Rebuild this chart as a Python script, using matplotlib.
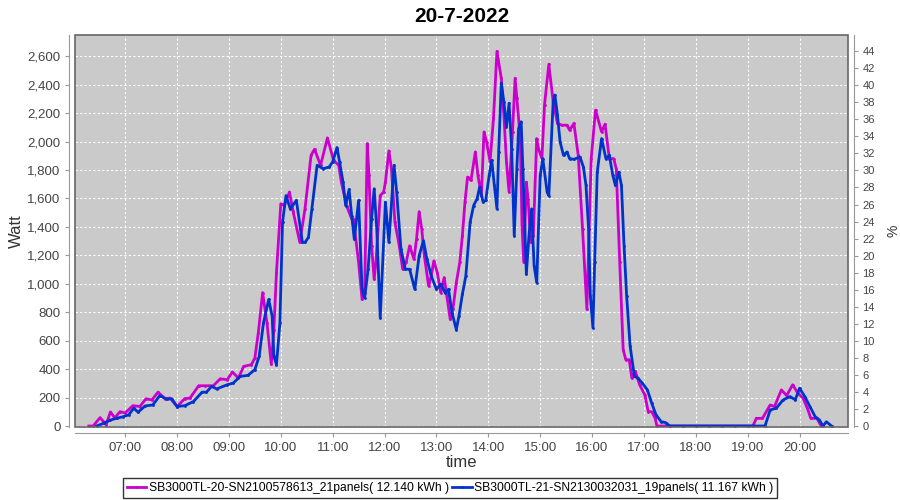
import pandas as pd
import matplotlib
matplotlib.use('Agg')
import matplotlib.pyplot as plt
import matplotlib.dates as mdates
from matplotlib.ticker import FuncFormatter, MultipleLocator
from matplotlib.patches import Rectangle

plt.rcParams['font.family'] = ['Liberation Sans', 'DejaVu Sans']

DAY = '2022-07-20 '

# SB3000TL-20 (magenta)
t_20 = ['06:18', '06:23', '06:31', '06:38', '06:43', '06:48', '06:54', '07:00', '07:09', '07:17',
        '07:24', '07:31', '07:38', '07:46', '07:52', '08:00', '08:09', '08:15', '08:25', '08:32',
        '08:42', '08:50', '08:58', '09:04', '09:11', '09:17', '09:26', '09:30', '09:34', '09:39',
        '09:44', '09:49', '09:52', '09:55', '10:00', '10:04', '10:10', '10:14', '10:22', '10:28',
        '10:35', '10:39', '10:46', '10:54', '11:01', '11:07', '11:10', '11:16', '11:22', '11:24',
        '11:30', '11:34', '11:37', '11:40', '11:42', '11:45', '11:48', '11:50', '11:55', '11:59',
        '12:01', '12:05', '12:08', '12:12', '12:17', '12:21', '12:25', '12:29', '12:34', '12:37',
        '12:40', '12:43', '12:46', '12:51', '12:54', '12:57', '13:01', '13:05', '13:09', '13:12',
        '13:16', '13:19', '13:23', '13:27', '13:30', '13:33', '13:36', '13:40', '13:45', '13:48',
        '13:52', '13:55', '13:58', '14:02', '14:06', '14:10', '14:15', '14:18', '14:21', '14:24',
        '14:28', '14:31', '14:33', '14:37', '14:39', '14:41', '14:44', '14:46', '14:49', '14:52',
        '14:56', '14:58', '15:02', '15:05', '15:10', '15:15', '15:20', '15:25', '15:31', '15:34',
        '15:39', '15:44', '15:49', '15:54', '15:59', '16:04', '16:11', '16:15', '16:20', '16:25',
        '16:28', '16:32', '16:36', '16:39', '16:43', '16:46', '16:50', '16:55', '17:01', '17:05',
        '17:09', '17:13', '17:15', '17:30', '17:45', '18:00', '18:15', '18:30', '18:45', '19:06',
        '19:10', '19:17', '19:26', '19:31', '19:39', '19:45', '19:52', '19:58', '20:04', '20:09',
        '20:13', '20:20', '20:25']
w_20 = [0, 0, 59, 10, 99, 57, 101, 92, 143, 137,
        191, 184, 238, 193, 196, 137, 193, 196, 283, 283,
        283, 332, 325, 380, 337, 419, 431, 478, 655, 938,
        726, 436, 678, 1079, 1562, 1550, 1645, 1515, 1291, 1527,
        1903, 1946, 1833, 2026, 1868, 1833, 1715, 1550, 1456, 1456,
        1150, 890, 938, 1986, 1762, 1267, 1032, 1150, 1620, 1645,
        1715, 1934, 1809, 1433, 1267, 1102, 1150, 1267, 1173, 1314,
        1507, 1385, 1197, 984, 1055, 1161, 1079, 938, 1044, 914,
        749, 820, 1008, 1150, 1338, 1574, 1750, 1727, 1927, 1762,
        1620, 2068, 1998, 1857, 2163, 2634, 2445, 2186, 1857, 1645,
        2068, 2445, 2304, 2021, 1409, 1150, 1715, 1597, 1291, 1338,
        2021, 1951, 1880, 2257, 2544, 2280, 2127, 2115, 2115, 2080,
        2127, 1903, 1385, 820, 1880, 2221, 2068, 2122, 1880, 1880,
        1809, 1150, 537, 466, 466, 337, 384, 290, 219, 101,
        101, 54, 0, 0, 0, 0, 0, 0, 0, 0,
        54, 54, 148, 137, 254, 214, 290, 231, 196, 125,
        54, 54, 0]

# SB3000TL-21 (blue)
t_21 = ['06:27', '06:35', '06:43', '06:50', '06:58', '07:04', '07:10', '07:15', '07:23', '07:32',
        '07:40', '07:48', '07:54', '08:00', '08:09', '08:19', '08:29', '08:34', '08:40', '08:46',
        '08:58', '09:05', '09:13', '09:22', '09:30', '09:35', '09:40', '09:46', '09:50', '09:52',
        '09:55', '09:59', '10:02', '10:06', '10:11', '10:18', '10:25', '10:28', '10:32', '10:36',
        '10:42', '10:49', '10:56', '11:00', '11:05', '11:08', '11:12', '11:15', '11:19', '11:22',
        '11:25', '11:30', '11:34', '11:37', '11:41', '11:45', '11:48', '11:51', '11:55', '12:01',
        '12:05', '12:11', '12:14', '12:19', '12:24', '12:29', '12:35', '12:40', '12:45', '12:49',
        '12:54', '13:00', '13:05', '13:10', '13:14', '13:18', '13:23', '13:26', '13:30', '13:34',
        '13:39', '13:43', '13:47', '13:50', '13:54', '13:57', '14:01', '14:04', '14:07', '14:10',
        '14:12', '14:15', '14:18', '14:21', '14:24', '14:27', '14:30', '14:33', '14:35', '14:38',
        '14:40', '14:44', '14:47', '14:50', '14:53', '14:56', '15:00', '15:03', '15:08', '15:10',
        '15:15', '15:17', '15:20', '15:23', '15:27', '15:31', '15:34', '15:39', '15:46', '15:50',
        '15:53', '15:56', '15:58', '16:01', '16:03', '16:06', '16:11', '16:16', '16:20', '16:24',
        '16:27', '16:31', '16:34', '16:37', '16:40', '16:44', '16:49', '16:53', '16:58', '17:04',
        '17:09', '17:14', '17:20', '17:25', '17:30', '17:45', '18:00', '18:15', '18:30', '18:45',
        '19:00', '19:20', '19:26', '19:33', '19:41', '19:49', '19:55', '20:00', '20:06', '20:12',
        '20:18', '20:23', '20:27', '20:31', '20:37']
w_21 = [0, 19, 42, 54, 66, 78, 125, 97, 141, 148,
        214, 189, 191, 137, 143, 172, 238, 238, 278, 261,
        290, 302, 349, 356, 396, 490, 726, 890, 772, 490,
        431, 726, 1433, 1620, 1527, 1586, 1291, 1291, 1326, 1527,
        1833, 1809, 1821, 1857, 1958, 1857, 1715, 1550, 1663, 1479,
        1314, 1586, 961, 902, 1102, 1456, 1668, 1385, 761, 1574,
        1291, 1833, 1645, 1244, 1102, 1102, 961, 1197, 1303, 1173,
        1055, 961, 997, 938, 961, 796, 678, 772, 926, 1055,
        1433, 1550, 1597, 1680, 1574, 1586, 1762, 1868, 1691, 1527,
        1927, 2410, 2280, 2104, 2269, 1951, 1338, 1809, 2092, 2139,
        1809, 1067, 1338, 1527, 1126, 1008, 1762, 1880, 1645, 1620,
        2280, 2327, 2186, 1998, 1903, 1927, 1880, 1875, 1892, 1821,
        1691, 1385, 914, 690, 1150, 1786, 2021, 1880, 1903, 1762,
        1691, 1786, 1691, 1267, 914, 561, 349, 337, 302, 254,
        160, 78, 30, 24, 0, 0, 0, 0, 0, 0,
        0, 0, 113, 125, 184, 207, 184, 266, 207, 137,
        66, 42, 0, 30, 0]

labels = ['SB3000TL-20-SN2100578613_21panels( 12.140 kWh )',
          'SB3000TL-21-SN2130032031_19panels( 11.167 kWh )']
colors = ['#cc00cc', '#0033cc']

fig = plt.figure(figsize=(9, 5), dpi=100)
ax = fig.add_axes([75/900, 1-427/500, (848-75)/900, (427-35)/500])
ax.set_facecolor('#cacaca')

for t, w, lab, c in zip([t_20, t_21], [w_20, w_21], labels, colors):
    x = pd.to_datetime([DAY + s for s in t])
    ax.plot(x, w, color=c, lw=2, marker='.', ms=2, label=lab)

ax.set_xlim(pd.Timestamp(DAY + '06:02'), pd.Timestamp(DAY + '20:56'))
ax.set_ylim(-7, 2749)
ax.xaxis.set_major_locator(mdates.HourLocator())
ax.xaxis.set_major_formatter(mdates.DateFormatter('%H:%M'))
ax.yaxis.set_major_locator(MultipleLocator(200))
ax.yaxis.set_major_formatter(FuncFormatter(lambda v, p: '{:,.0f}'.format(v)))
ax.grid(True, color='white', ls=(0, (2, 2)), lw=0.8)
ax.set_axisbelow(True)

for s in ax.spines.values():
    s.set_visible(False)
for s in ['left', 'bottom']:
    ax.spines[s].set_visible(True)
    ax.spines[s].set_position(('outward', 4))
    ax.spines[s].set_color('#999999')
ax.add_patch(Rectangle((0, 0), 1, 1, transform=ax.transAxes, fill=False,
                       ec='#666666', lw=1.2, zorder=5, clip_on=False))
ax.tick_params(colors='#999999', labelcolor='#444444', labelsize=9.5, length=3)
ax.set_ylabel('Watt', fontsize=12, color='#333333', labelpad=2)
ax.set_xlabel('time', fontsize=12, color='#333333', labelpad=1)
ax.set_title('20-7-2022', fontsize=15, fontweight='bold', pad=9)

ax2 = ax.twinx()
ax2.set_ylim(-0.12, 45.9)
ax2.yaxis.set_major_locator(MultipleLocator(2))
for s in ax2.spines.values():
    s.set_visible(False)
ax2.spines['right'].set_visible(True)
ax2.spines['right'].set_position(('outward', 4))
ax2.spines['right'].set_color('#999999')
ax2.tick_params(colors='#999999', labelcolor='#444444', labelsize=8, length=3)
ax2.set_ylabel('%', fontsize=10, color='#333333', labelpad=8)

leg = fig.legend(loc='lower center', bbox_to_anchor=(0.5, 0.0), ncol=2, fontsize=8.7,
                 frameon=True, fancybox=False, edgecolor='black', handlelength=1.6,
                 handletextpad=0.2, columnspacing=0.3, borderpad=0.35, borderaxespad=0.15)
leg.get_frame().set_linewidth(1)

fig.savefig('out.png', dpi=100)
